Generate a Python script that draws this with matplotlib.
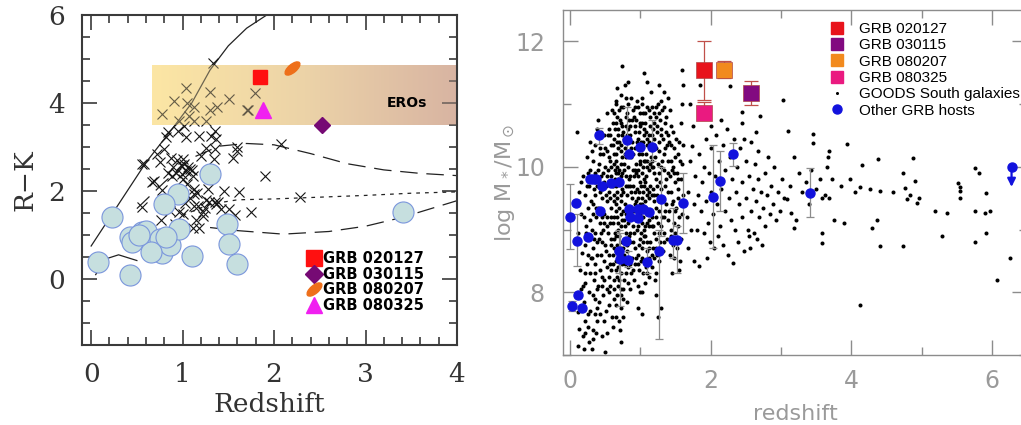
import numpy as np
import matplotlib
matplotlib.use('Agg')
import matplotlib.pyplot as plt
from matplotlib.lines import Line2D
from matplotlib.markers import MarkerStyle
from matplotlib.transforms import Affine2D
from matplotlib.colors import LinearSegmentedColormap

# ---------------- left panel data: R-K vs redshift ----------------
circ_z = [0.08, 0.23, 0.43, 0.42, 0.56, 0.45, 0.60, 0.71, 0.78, 0.75, 0.86, 0.65,
          0.95, 0.80, 0.96, 1.10, 1.30, 1.48, 1.51, 1.60, 3.41, 0.52, 0.82]
circ_rk = [0.38, 1.40, 0.08, 0.95, 1.06, 0.85, 1.10, 0.76, 0.60, 0.92, 0.78, 0.62,
           1.93, 1.70, 1.14, 0.53, 2.39, 1.25, 0.80, 0.33, 1.52, 1.00, 0.95]

cross_z = [1.33, 1.04, 1.30, 1.79, 0.91, 1.05, 1.51, 1.38, 1.30, 1.13, 0.78, 1.71,
           1.07, 0.96, 1.13, 1.26, 1.01, 0.84, 0.95, 1.04, 1.18, 1.31, 1.35, 1.37,
           1.26, 1.35, 0.82, 1.60, 1.55, 2.08, 1.34, 0.58, 0.75, 0.87, 1.00, 0.84,
           0.93, 1.04, 1.11, 1.00, 0.69, 1.90, 1.62, 1.13, 1.26, 1.35, 1.51, 1.75,
           2.28, 0.56, 1.13, 1.00, 1.22, 0.76, 1.15, 1.59, 1.70, 0.67, 0.78, 0.56,
           1.11, 1.18, 1.22, 1.29, 1.37, 1.39, 1.17, 0.96, 0.93, 0.90, 0.98, 1.06,
           1.08, 0.88, 0.94, 1.02, 1.10, 1.20, 0.99, 1.05, 0.72, 0.80, 1.12, 1.28,
           1.45, 1.57, 1.42, 1.24, 1.08, 0.86, 1.16, 1.03, 0.92]
cross_rk = [4.92, 4.33, 4.26, 4.23, 4.05, 4.00, 4.09, 3.90, 3.83, 3.90, 3.75, 3.83,
            3.71, 3.60, 3.60, 3.60, 3.48, 3.33, 3.37, 3.22, 3.26, 3.26, 3.37, 3.18,
            2.97, 2.96, 3.22, 2.99, 2.76, 3.07, 2.73, 2.61, 2.65, 2.76, 2.73, 2.42,
            2.42, 2.45, 2.33, 2.27, 2.23, 2.33, 1.97, 1.94, 1.79, 1.75, 1.59, 1.52,
            1.86, 1.63, 1.67, 1.48, 1.52, 1.33, 1.33, 2.92, 3.84, 2.21, 2.03, 2.61,
            1.17, 1.17, 1.44, 1.74, 1.70, 1.74, 1.67, 1.52, 1.82, 2.55, 2.60, 2.55,
            2.50, 2.35, 2.70, 2.62, 2.48, 2.80, 2.38, 2.15, 2.85, 2.95, 2.05, 2.05,
            2.00, 1.45, 1.58, 1.62, 1.85, 1.55, 1.95, 1.72, 1.25]

solid_z = [0.00, 0.30, 0.60, 0.90, 1.10, 1.30, 1.50, 1.70, 1.92]
solid_rk = [0.75, 1.70, 2.65, 3.45, 4.00, 4.75, 5.30, 5.70, 6.00]
dash_hi_z = [0.50, 0.80, 1.10, 1.40, 1.70, 2.00, 2.40, 2.80, 3.20, 3.60, 4.00]
dash_hi_rk = [1.60, 2.20, 2.75, 3.02, 3.08, 3.05, 2.85, 2.62, 2.48, 2.40, 2.35]
dot_z = [1.00, 1.30, 1.60, 2.00, 2.50, 3.00, 3.50, 4.00]
dot_rk = [1.45, 1.70, 1.80, 1.82, 1.86, 1.90, 1.95, 1.98]
dash_lo_z = [1.30, 1.60, 2.10, 2.60, 3.00, 3.40, 4.00]
dash_lo_rk = [1.17, 1.10, 1.02, 1.08, 1.20, 1.40, 1.78]
low_z = [0.05, 0.15, 0.30, 0.50]
low_rk = [0.10, 0.45, 0.55, 0.42]

grb_names = ['GRB 020127', 'GRB 030115', 'GRB 080207', 'GRB 080325']
grb_rk_z = [1.85, 2.52, 2.20, 1.88]
grb_rk = [4.60, 3.50, 4.80, 3.85]

# ---------------- right panel data: stellar mass vs redshift ----------------
goods = [
    (0.11,7.15),(0.13,7.42),(0.12,7.68),(0.15,8.05),(0.14,8.35),(0.17,8.62),(0.12,8.95),(0.16,9.25),
    (0.13,9.6),(0.18,9.85),(0.19,7.3),(0.21,7.55),(0.2,7.85),(0.22,8.15),(0.24,8.45),(0.21,8.75),
    (0.23,9.05),(0.25,9.35),(0.22,9.55),(0.26,9.9),(0.24,10.15),(0.27,7.2),(0.28,7.7),(0.27,8.0),
    (0.29,8.3),(0.3,8.55),(0.28,8.9),(0.29,9.15),(0.3,9.45),(0.27,9.7),(0.29,10.4),(0.1,10.55),
    (0.16,9.75),(0.18,8.1),(0.26,7.45),(0.23,8.95),
    (0.31,7.1),(0.33,7.4),(0.35,7.65),(0.32,7.95),(0.34,8.2),(0.36,8.45),(0.33,8.7),(0.35,8.95),
    (0.37,9.2),(0.32,9.4),(0.34,9.65),(0.36,9.9),(0.33,10.1),(0.35,10.35),(0.38,10.6),(0.39,7.55),
    (0.41,7.85),(0.4,8.1),(0.42,8.35),(0.39,8.6),(0.41,8.85),(0.43,9.1),(0.4,9.35),(0.42,9.6),
    (0.44,9.85),(0.41,10.05),(0.43,10.3),(0.4,10.75),(0.45,7.3),(0.47,7.95),(0.46,8.25),(0.48,8.5),
    (0.45,8.8),(0.47,9.0),(0.49,9.25),(0.46,9.5),(0.48,9.75),(0.5,10.0),(0.47,10.2),(0.49,10.5),
    (0.51,7.7),(0.52,8.05),(0.53,8.4),(0.51,8.65),(0.54,8.95),(0.52,9.2),(0.53,9.45),(0.51,9.7),
    (0.54,9.95),(0.52,10.25),(0.53,10.85),(0.5,7.05),(0.38,8.05),(0.44,8.95),(0.36,9.55),(0.48,9.1),
    (0.56,7.8),(0.57,8.1),(0.58,8.35),(0.56,8.6),(0.59,8.85),(0.57,9.1),(0.58,9.35),(0.56,9.6),
    (0.59,9.85),(0.57,10.1),(0.58,10.35),(0.56,10.6),(0.6,10.9),
    (0.61,7.45),(0.62,7.9),(0.63,8.2),(0.61,8.45),(0.62,8.7),(0.64,8.95),(0.62,9.2),(0.63,9.45),
    (0.61,9.7),(0.64,9.95),(0.62,10.2),(0.63,10.45),(0.61,10.7),
    (0.66,7.6),(0.67,7.95),(0.67,8.25),(0.66,8.5),(0.67,8.75),(0.68,9.0),(0.67,9.2),(0.66,9.4),
    (0.67,9.6),(0.68,9.8),(0.67,10.0),(0.66,10.2),(0.67,10.4),(0.68,10.6),(0.67,10.8),(0.66,11.0),
    (0.67,11.25),(0.68,8.1),(0.66,8.9),(0.67,9.5),(0.68,10.3),
    (0.71,7.4),(0.72,7.75),(0.73,8.05),(0.72,8.3),(0.73,8.55),(0.74,8.8),(0.73,9.05),(0.72,9.25),
    (0.73,9.45),(0.74,9.65),(0.73,9.85),(0.72,10.05),(0.73,10.25),(0.74,10.5),(0.73,10.7),(0.72,10.95),
    (0.74,11.6),(0.73,7.2),(0.72,9.75),(0.74,10.15),
    (0.76,7.9),(0.77,8.2),(0.78,8.45),(0.76,8.7),(0.79,8.95),(0.77,9.15),(0.78,9.4),(0.76,9.6),
    (0.79,9.85),(0.77,10.05),(0.78,10.3),(0.76,10.55),(0.79,10.8),(0.8,11.1),
    (0.81,7.85),(0.82,8.15),(0.83,8.4),(0.81,8.65),(0.84,8.9),(0.82,9.1),(0.83,9.35),(0.81,9.55),
    (0.84,9.8),(0.82,10.0),(0.83,10.25),(0.81,10.5),(0.84,10.75),(0.82,11.0),(0.83,11.35),
    (0.86,8.05),(0.87,8.3),(0.88,8.55),(0.86,8.8),(0.89,9.05),(0.87,9.25),(0.88,9.5),(0.86,9.7),
    (0.89,9.95),(0.87,10.15),(0.88,10.4),(0.86,10.65),(0.89,10.9),
    (0.91,8.2),(0.92,8.45),(0.93,8.7),(0.91,8.95),(0.94,9.15),(0.92,9.4),(0.93,9.6),(0.91,9.85),
    (0.94,10.05),(0.92,10.3),(0.93,10.55),(0.91,10.8),(0.95,11.05),
    (0.96,7.75),(0.97,8.1),(0.98,8.35),(0.96,8.6),(0.99,8.85),(0.97,9.05),(0.98,9.3),(0.96,9.5),
    (0.99,9.75),(0.97,9.95),(0.98,10.2),(0.96,10.45),(0.99,10.7),(0.97,10.95),
    (1.02,7.65),(1.03,8.0),(1.04,8.3),(1.03,8.55),(1.04,8.8),(1.05,9.0),(1.04,9.2),(1.03,9.4),
    (1.04,9.6),(1.05,9.8),(1.04,10.0),(1.03,10.2),(1.04,10.4),(1.05,10.6),(1.04,10.85),(1.03,11.1),
    (1.05,11.5),
    (1.07,8.15),(1.08,8.4),(1.09,8.65),(1.07,8.9),(1.1,9.1),(1.08,9.35),(1.09,9.55),(1.07,9.75),
    (1.1,10.0),(1.08,10.2),(1.09,10.45),(1.07,10.7),(1.1,10.95),(1.09,11.35),
    (1.12,8.25),(1.13,8.55),(1.14,8.8),(1.12,9.05),(1.15,9.3),(1.13,9.5),(1.14,9.7),(1.12,9.95),
    (1.15,10.15),(1.13,10.4),(1.14,10.65),(1.12,10.9),(1.15,11.2),
    (1.17,8.4),(1.18,8.7),(1.19,8.95),(1.17,9.2),(1.2,9.45),(1.18,9.65),(1.19,9.9),(1.17,10.1),
    (1.2,10.35),(1.18,10.6),(1.19,10.85),
    (1.22,7.95),(1.23,8.3),(1.24,8.6),(1.22,8.85),(1.25,9.1),(1.23,9.35),(1.24,9.55),(1.22,9.8),
    (1.25,10.05),(1.23,10.3),(1.24,10.55),(1.22,10.8),(1.25,11.0),
    (1.27,8.5),(1.28,8.8),(1.29,9.05),(1.27,9.3),(1.3,9.5),(1.28,9.75),(1.29,10.0),(1.27,10.25),
    (1.3,10.5),(1.28,10.75),(1.29,11.05),(1.27,11.3),
    (1.32,8.65),(1.33,8.95),(1.34,9.2),(1.32,9.45),(1.35,9.7),(1.33,9.95),(1.34,10.2),(1.32,10.45),
    (1.35,10.7),(1.33,10.95),(1.34,11.2),(1.38,8.85),(1.37,9.4),(1.39,9.9),(1.38,10.35),(1.37,10.8),
    (1.39,11.1),(1.25,7.6),(1.3,7.75),
    (1.42,8.6),(1.43,9.0),(1.41,9.3),(1.44,9.6),(1.42,9.85),(1.43,10.1),(1.41,10.4),(1.44,10.65),
    (1.42,10.9),(1.47,8.75),(1.48,9.1),(1.46,9.45),(1.49,9.75),(1.47,10.0),(1.48,10.3),(1.46,10.55),
    (1.52,8.7),(1.53,9.05),(1.51,9.35),(1.54,9.65),(1.52,9.9),(1.53,10.2),(1.51,10.45),(1.58,8.85),
    (1.59,9.25),(1.6,9.55),(1.58,9.8),(1.59,10.05),(1.6,10.35),(1.58,10.7),(1.59,11.0),(1.6,11.3),
    (1.59,11.55),(1.57,8.5),(1.55,8.35),(1.45,8.3),
    (1.66,9.2),(1.68,9.6),(1.7,10.1),(1.72,9.0),(1.73,10.33),(1.75,10.65),(1.76,9.4),(1.77,8.5),
    (1.78,9.85),(1.8,9.0),(1.82,9.55),(1.83,8.42),(1.84,10.2),(1.86,9.3),(1.88,9.75),(1.9,10.0),
    (1.91,8.95),(1.93,9.45),(1.94,10.45),(1.96,9.1),(1.97,9.9),(1.99,8.8),(2.0,9.6),(2.01,10.3),
    (2.03,9.25),(2.05,8.7),(2.06,9.85),(2.08,10.5),(2.09,9.4),(2.1,8.9),(2.12,10.1),(2.14,9.05),
    (2.15,9.65),(2.17,10.35),(2.18,8.75),(2.2,9.3),(2.21,9.95),(2.23,10.6),(2.24,8.6),(2.26,9.5),
    (2.27,10.15),(2.28,11.29),(2.29,9.15),(2.31,9.8),(2.32,8.47),(2.33,10.45),(2.35,9.0),(2.36,9.6),
    (2.38,10.0),(2.39,8.8),(2.41,9.4),(2.42,10.3),(2.44,9.2),(2.45,9.75),(2.47,10.45),(2.48,8.65),
    (2.5,9.5),(2.51,10.1),(2.53,9.0),(2.54,9.85),(2.56,8.7),(2.57,9.3),(2.58,10.4),(2.6,9.65),
    (2.61,8.95),(2.63,10.05),(2.64,9.45),(2.66,8.85),(2.67,9.8),(2.69,9.2),(2.7,10.81),(2.72,9.6),
    (2.73,8.75),(2.75,9.35),(2.77,9.9),(2.78,9.05),(2.8,9.55),(2.82,10.15),(2.84,9.25),(2.86,9.7),
    (2.88,9.4),(2.9,10.0),(2.93,9.15),(2.96,9.6),(2.99,9.3),(1.7,11.0),(1.68,8.7),(1.95,8.55),
    (2.15,10.75),(2.45,10.7),(2.65,10.55),(2.55,8.9),(2.0,10.65),(1.85,11.3),
    (3.02,9.8),(3.05,9.5),(3.08,9.48),(3.1,10.57),(3.13,9.69),(3.15,9.27),(3.18,10.16),(3.18,9.03),
    (3.22,9.16),(3.25,9.9),(3.3,9.6),(3.35,9.75),(3.4,9.4),(3.43,9.95),(3.46,10.52),(3.46,10.38),
    (3.5,9.65),(3.55,9.8),(3.58,9.5),(3.58,8.95),(3.58,8.79),(3.62,9.55),(3.66,10.0),(3.67,10.15),
    (3.68,10.25),(3.68,9.5),(3.72,9.8),(3.75,9.15),(3.85,9.7),(3.94,10.36),(3.9,9.1),(3.98,9.8),
    (4.05,9.6),(4.13,9.68),(4.13,7.8),(4.15,10.03),(4.27,9.64),(4.29,9.03),(4.36,9.16),(4.38,10.13),
    (4.41,9.61),(4.41,8.74),(4.6,9.6),(4.74,9.9),(4.74,8.73),(4.76,9.67),(4.79,9.48),(4.84,9.55),
    (4.88,10.14),(4.91,9.77),(4.93,9.43),(4.96,9.5),(5.19,9.29),(5.29,8.9),(5.36,9.26),(5.52,9.74),
    (5.55,9.61),(5.55,9.5),(5.54,9.68),(5.76,9.98),(5.81,9.9),(5.76,9.29),(5.76,8.8),(5.9,9.27),
    (5.92,9.59),(5.92,8.95),(5.97,9.3),(6.07,8.2),(6.26,8.55),(2.45,10.87),(2.68,10.25),(3.03,11.07),
    # second pass over the dense low-redshift cloud
    (0.2,7.1),(0.22,7.35),(0.25,7.65),(0.21,8.3),(0.26,8.6),(0.2,9.2),(0.24,9.7),(0.28,9.95),
    (0.31,10.25),(0.33,7.25),(0.35,7.9),(0.31,8.55),(0.34,8.85),(0.32,9.25),(0.35,9.75),(0.31,9.0),
    (0.37,7.35),(0.38,7.75),(0.36,8.3),(0.39,8.8),(0.37,9.35),(0.38,9.7),(0.4,9.95),(0.42,10.2),
    (0.44,10.55),(0.43,7.65),(0.45,8.1),(0.44,8.6),(0.46,9.2),(0.45,9.65),(0.47,9.9),(0.5,10.3),
    (0.49,7.55),(0.48,8.2),(0.5,8.75),(0.52,9.05),(0.51,9.55),(0.53,9.85),(0.55,10.15),(0.54,10.5),
    (0.55,8.25),(0.53,7.35),
    (0.56,8.0),(0.57,8.45),(0.58,8.75),(0.59,9.2),(0.57,9.5),(0.58,9.75),(0.59,10.0),(0.57,10.5),
    (0.6,7.6),(0.62,8.05),(0.61,8.6),(0.63,8.85),(0.61,9.1),(0.62,9.55),(0.64,9.8),(0.63,10.05),
    (0.61,10.35),(0.64,10.6),(0.62,10.85),(0.65,11.05),(0.65,8.35),(0.65,9.3),(0.65,9.9),(0.66,7.8),
    (0.68,8.4),(0.66,8.65),(0.68,9.1),(0.66,9.7),(0.68,9.9),(0.66,10.1),(0.68,10.5),(0.66,10.7),
    (0.69,10.9),(0.7,7.55),(0.7,8.2),(0.7,8.9),(0.7,9.35),(0.7,9.95),(0.7,10.4),(0.71,10.75),
    (0.72,7.95),(0.74,8.45),(0.72,8.7),(0.74,9.15),(0.72,9.55),(0.74,9.9),(0.72,10.35),(0.74,10.65),
    (0.73,11.15),(0.75,7.6),(0.76,8.05),(0.77,8.6),(0.78,9.05),(0.76,9.3),(0.79,9.7),(0.77,9.95),
    (0.78,10.2),(0.77,10.45),(0.79,10.65),(0.76,10.95),(0.78,11.3),
    (0.8,8.3),(0.81,8.75),(0.8,9.25),(0.82,9.7),(0.8,10.15),(0.83,10.6),(0.81,10.85),(0.85,8.45),
    (0.86,8.95),(0.85,9.35),(0.87,9.6),(0.85,9.85),(0.87,10.3),(0.85,10.5),(0.88,10.75),(0.87,11.1),
    (0.9,8.35),(0.9,8.8),(0.91,9.3),(0.9,9.7),(0.92,9.95),(0.9,10.2),(0.92,10.65),(0.93,10.95),
    (0.94,8.55),(0.95,9.0),(0.94,9.45),(0.95,9.65),(0.94,9.9),(0.95,10.4),(0.94,10.75),(0.97,8.45),
    (0.98,8.75),(0.97,9.2),(0.99,9.4),(0.98,9.6),(0.97,9.85),(0.99,10.1),(0.98,10.55),(1.0,10.85),
    (1.0,8.0),(1.01,8.5),(1.01,8.95),(1.0,9.25),(1.01,9.7),(1.0,10.05),(1.01,10.4),(1.0,10.65),
    (1.02,11.0),(1.03,8.7),(1.05,8.9),(1.03,9.1),(1.05,9.3),(1.03,9.5),(1.05,9.7),(1.03,9.9),
    (1.05,10.1),(1.03,10.3),(1.05,10.5),(1.03,10.7),(1.06,8.5),(1.07,9.05),(1.06,9.45),(1.08,9.85),
    (1.06,10.1),(1.08,10.55),(1.06,10.85),(1.09,8.3),(1.1,8.8),(1.09,9.25),(1.1,9.65),(1.09,10.1),
    (1.1,10.35),
    (1.12,8.7),(1.13,9.15),(1.12,9.6),(1.14,10.05),(1.12,10.5),(1.14,10.8),(1.16,8.6),(1.16,9.05),
    (1.16,9.55),(1.16,10.0),(1.16,10.5),(1.16,10.95),(1.19,8.55),(1.18,9.05),(1.2,9.55),(1.18,10.0),
    (1.2,10.45),(1.19,10.7),(1.21,8.2),(1.23,8.7),(1.22,9.2),(1.24,9.7),(1.21,10.15),(1.24,10.65),
    (1.23,10.95),(1.26,8.95),(1.27,9.45),(1.26,9.9),(1.27,10.4),(1.26,10.85),(1.3,8.65),(1.31,9.2),
    (1.3,9.65),(1.31,10.1),(1.3,10.6),(1.31,10.9),(1.34,8.8),(1.35,9.3),(1.36,9.8),(1.35,10.3),
    (1.36,10.55),(1.4,9.15),(1.4,9.6),(1.4,10.1),(1.4,10.5),(1.44,8.9),(1.45,9.4),(1.45,9.95),
    (1.44,10.35),(1.48,8.55),(1.49,9.3),(1.48,9.9),(1.5,10.15),(1.5,8.95),(1.53,9.5),(1.55,9.2),
    (1.54,9.8),(1.56,10.1),(1.55,10.4),
]
goods_z = [p[0] for p in goods]
goods_m = [p[1] for p in goods]

# other GRB hosts: z, logM, lower, upper (lower == upper == logM -> no bar)
host_z = [0.00, 0.085, 0.10, 0.25, 0.41, 0.28, 0.33, 0.37, 0.45, 0.43, 0.58, 0.69, 0.69, 0.71,
          0.83, 0.79, 0.81, 0.84, 0.84, 0.85, 0.96, 0.97, 1.00, 1.04, 1.12, 1.16, 1.09, 1.26,
          1.30, 1.47, 1.52, 1.60, 2.04, 2.13, 2.32, 3.41, 0.03, 0.12, 0.17]
host_m = [9.20, 9.42, 8.82, 8.88, 10.50, 9.80, 9.81, 9.80, 9.69, 9.29, 9.74, 9.76, 8.66, 8.53,
          8.52, 8.82, 10.42, 10.20, 9.32, 9.20, 9.19, 9.33, 10.31, 9.32, 9.28, 10.31, 8.49, 8.66,
          9.48, 8.83, 8.83, 9.42, 9.52, 9.77, 10.20, 9.59, 7.78, 7.95, 7.75]
host_lo = [8.69, 9.42, 8.42, 8.88, 10.37, 9.80, 9.81, 9.80, 9.69, 9.29, 9.74, 9.76, 8.30, 7.78,
           8.40, 8.82, 10.20, 10.20, 9.32, 9.20, 9.19, 9.33, 10.31, 9.32, 9.28, 10.10, 8.30, 7.25,
           8.90, 8.55, 8.31, 8.95, 8.70, 9.30, 10.02, 9.20, 7.70, 7.95, 7.75]
host_hi = [9.73, 9.42, 9.24, 8.88, 10.62, 9.80, 9.81, 9.80, 9.69, 9.29, 9.74, 9.76, 9.00, 8.95,
           8.65, 8.82, 10.95, 10.20, 9.32, 9.20, 9.19, 9.33, 10.31, 9.32, 9.28, 10.75, 8.70, 9.00,
           10.00, 9.35, 9.05, 9.90, 10.35, 10.25, 10.38, 9.98, 7.86, 7.95, 7.75]
limit_z = 6.28
limit_m = 10.0

grb_m_z = [1.90, 2.57, 2.19, 1.90]
grb_m = [11.54, 11.17, 11.55, 10.85]
grb_m_lo = [11.07, 10.99, 11.41, 10.74]
grb_m_hi = [12.00, 11.36, 11.69, 11.03]

# ---------------- figure ----------------
fig = plt.figure(figsize=(10.21, 4.25), dpi=100)
axL = fig.add_axes([0.0803, 0.1882, 0.3673, 0.7765])
axR = fig.add_axes([0.5514, 0.1647, 0.4545, 0.8118])

serif = 'DejaVu Serif'
dark = '#3a3a3a'

# left panel
axL.set_xlim(-0.1, 4.0)
axL.set_ylim(-1.5, 6.0)
band = LinearSegmentedColormap.from_list('eros', ['#fce6a4', '#ecd3a8', '#d8b4a2'])
band_img = np.linspace(0, 1, 256).reshape(1, -1)
axL.imshow(band_img, cmap=band, extent=[0.66, 4.0, 3.5, 4.85],
           aspect='auto', zorder=1, interpolation='bilinear')
axL.plot(solid_z, solid_rk, color='#222222', lw=0.9, zorder=2)
axL.plot(dash_hi_z, dash_hi_rk, color='#222222', lw=0.9, dashes=(14, 7), zorder=2)
axL.plot(dot_z, dot_rk, color='#222222', lw=0.9, dashes=(3, 4), zorder=2)
axL.plot(dash_lo_z, dash_lo_rk, color='#222222', lw=0.9, dashes=(14, 7), zorder=2)
axL.plot(low_z, low_rk, color='#222222', lw=0.9, zorder=2)
axL.plot(cross_z, cross_rk, 'x', color='#151515', ms=7, mew=0.8, zorder=2)
# thin tint of the band over the crosses, so they look brownish inside it
axL.imshow(band_img, cmap=band, extent=[0.66, 4.0, 3.5, 4.85],
           aspect='auto', zorder=2.5, alpha=0.35, interpolation='bilinear')
axL.set_xlim(-0.1, 4.0)
axL.set_ylim(-1.5, 6.0)
axL.text(3.45, 4.0, 'EROs', fontsize=10, fontweight='bold', ha='center', va='center',
         family='DejaVu Sans', zorder=4)

axL.scatter(circ_z, circ_rk, s=230, facecolor='#c6dfdf', edgecolor='#7a96dc', lw=0.8, zorder=4)

ell = MarkerStyle('o', transform=Affine2D().scale(1.0, 0.45).rotate_deg(40))
grb_colors_L = ['#ff1010', '#760a74', '#ee6f1a', '#f020f0']
grb_markers_L = ['s', 'D', ell, '^']
grb_sizes_L = [10, 8.5, 13, 11]
for zz, rr, c, m, s in zip(grb_rk_z, grb_rk, grb_colors_L, grb_markers_L, grb_sizes_L):
    axL.plot([zz], [rr], marker=m, color=c, ms=s, ls='none', zorder=5)

handles_L = [Line2D([], [], marker=m, color=c, ms=s, ls='none')
             for c, m, s in zip(grb_colors_L, grb_markers_L, [11, 9, 13, 11])]
axL.legend(handles_L, grb_names, loc='upper left', bbox_to_anchor=(0.6, 0.285),
           frameon=False, handlelength=1.0, handletextpad=0.1, labelspacing=0.05,
           borderpad=0, borderaxespad=0,
           prop={'family': 'DejaVu Sans', 'weight': 'bold', 'size': 10.5})

axL.set_xticks([0, 1, 2, 3, 4])
axL.set_xticks(np.arange(-0.0, 4.0, 0.2), minor=True)
axL.set_yticks([0, 2, 4, 6])
axL.set_yticks(np.arange(-1.5, 6.01, 0.5), minor=True)
axL.tick_params(which='both', direction='in', top=True, right=True, color=dark, width=1.2)
axL.tick_params(which='major', length=11, pad=12, labelsize=19, labelcolor='#333333')
axL.tick_params(which='minor', length=6)
for lab in axL.get_xticklabels() + axL.get_yticklabels():
    lab.set_family(serif)
for sp in axL.spines.values():
    sp.set_color(dark)
    sp.set_linewidth(1.5)
axL.set_xlabel('Redshift', family=serif, fontsize=19, color='#333333', labelpad=4)
axL.set_ylabel('R\u2212K', family=serif, fontsize=19, color='#333333', labelpad=8)

# right panel
grey = '#8c8c8c'
blue = '#1212dd'
axR.set_xlim(-0.1, 6.5)
axR.set_ylim(7.0, 12.5)
axR.plot(goods_z, goods_m, 'o', color='black', ms=2.9, mew=0, ls='none', zorder=2)

hz = np.array(host_z)
hm = np.array(host_m)
hlo = np.array(host_lo)
hhi = np.array(host_hi)
bar = (hhi - hlo) > 0
axR.errorbar(hz[bar], hm[bar], yerr=[hm[bar] - hlo[bar], hhi[bar] - hm[bar]], fmt='none',
             ecolor=grey, elinewidth=0.9, capsize=3, capthick=0.9, zorder=3)
axR.plot(hz, hm, 'o', color=blue, ms=6.5, ls='none', zorder=4)
axR.plot([limit_z], [limit_m], 'o', color=blue, ms=6.5, zorder=4)
axR.annotate('', xy=(limit_z, 9.68), xytext=(limit_z, limit_m),
             arrowprops=dict(arrowstyle='-|>', color=blue, lw=1.6, mutation_scale=12,
                             shrinkA=0, shrinkB=0), zorder=4)

grb_colors_R = ['#e8141c', '#820a80', '#f28a1e', '#ea1a80']
for zz, mm, lo, hi, c in zip(grb_m_z, grb_m, grb_m_lo, grb_m_hi, grb_colors_R):
    axR.errorbar([zz], [mm], yerr=[[mm - lo], [hi - mm]], fmt='none', ecolor='#c0504a',
                 elinewidth=0.9, capsize=5, capthick=0.9, zorder=5)
    axR.plot([zz], [mm], 's', color=c, mec='#b04848', mew=0.5, ms=11, zorder=6)

handles_R = [Line2D([], [], marker='s', color=c, ms=9, ls='none') for c in grb_colors_R]
handles_R.append(Line2D([], [], marker='o', color='black', ms=2.2, mew=0, ls='none'))
handles_R.append(Line2D([], [], marker='o', color=blue, ms=6.5, ls='none'))
labels_R = grb_names + ['GOODS South galaxies', 'Other GRB hosts']
axR.legend(handles_R, labels_R, loc='upper left', bbox_to_anchor=(0.575, 0.965), frameon=False,
           handlelength=1.0, handletextpad=0.9, labelspacing=0.15, borderpad=0, borderaxespad=0,
           prop={'family': 'Liberation Sans', 'size': 11})

axR.set_xticks([0, 2, 4, 6])
axR.set_xticks([1, 3, 5], minor=True)
axR.set_yticks([8, 10, 12])
axR.set_yticks([7, 9, 11], minor=True)
axR.tick_params(which='both', direction='in', top=True, right=True, color=grey, width=1.0)
axR.tick_params(which='major', length=11, labelsize=17, labelcolor='#9a9a9a')
axR.tick_params(which='minor', length=6)
axR.tick_params(axis='y', pad=13)
axR.tick_params(axis='x', pad=10)
for lab in axR.get_xticklabels() + axR.get_yticklabels():
    lab.set_family('DejaVu Sans')
for sp in axR.spines.values():
    sp.set_color(grey)
    sp.set_linewidth(1.0)
axR.set_xlabel('redshift', fontsize=16, color='#9a9a9a', family='DejaVu Sans', labelpad=8)
axR.set_ylabel(r'log M$_*$/M$_\odot$', fontsize=16, color='#9a9a9a', family='DejaVu Sans')
axR.yaxis.set_label_coords(-0.1, 0.5)

fig.savefig('out.png', dpi=100)
